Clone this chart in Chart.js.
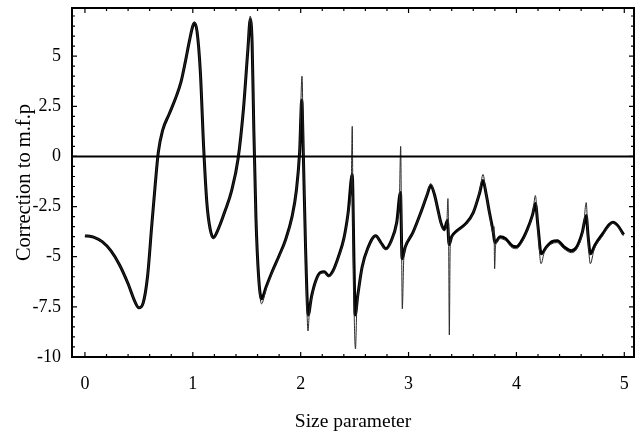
<!DOCTYPE html>
<html>
<head>
<meta charset="utf-8">
<script src="https://cdn.jsdelivr.net/npm/chart.js@4"></script>
<style>
  html, body { margin: 0; padding: 0; background: #fff; }
  #wrap { width: 642px; height: 435px; }
</style>
</head>
<body>
<div id="wrap"><canvas id="chart" width="642" height="435"></canvas></div>
<script>
// Smooth curve (heavy line): size parameter vs. correction
const smoothSize = [
  0.00, 0.08, 0.16, 0.24, 0.32, 0.40, 0.46, 0.50, 0.54, 0.58,
  0.62, 0.65, 0.68, 0.72, 0.78, 0.84, 0.89, 0.93, 0.97, 1.00,
  1.015, 1.04, 1.07, 1.10, 1.13, 1.16, 1.19, 1.23, 1.30, 1.36,
  1.42, 1.47, 1.51, 1.533, 1.55, 1.565, 1.585, 1.61, 1.637, 1.68,
  1.735, 1.80, 1.86, 1.92, 1.96, 1.99, 2.01, 2.025, 2.045, 2.07,
  2.10, 2.14, 2.18, 2.22, 2.26, 2.30, 2.35, 2.40, 2.44, 2.478,
  2.495, 2.505, 2.53, 2.57, 2.62, 2.695, 2.75, 2.79, 2.84, 2.89,
  2.925, 2.94, 2.97, 3.04, 3.11, 3.17, 3.206, 3.24, 3.27, 3.30,
  3.33, 3.36, 3.376, 3.40, 3.45, 3.53, 3.60, 3.66, 3.69, 3.72,
  3.75, 3.786, 3.80, 3.85, 3.90, 3.96, 4.00, 4.05, 4.10, 4.15,
  4.176, 4.20, 4.23, 4.28, 4.33, 4.38, 4.44, 4.51, 4.56, 4.61,
  4.647, 4.665, 4.685, 4.73, 4.80, 4.86, 4.895, 4.94, 4.994
];
const smoothCorr = [
  -3.95, -4.02, -4.25, -4.7, -5.4, -6.35, -7.2, -7.55, -7.3, -6.0,
  -3.4, -1.5, 0.2, 1.3, 2.1, 2.9, 3.7, 4.7, 5.8, 6.5,
  6.65, 6.2, 4.2, 0.5, -2.3, -3.6, -4.05, -3.7, -2.7, -1.7,
  -0.1, 2.4, 5.3, 6.85, 5.6, 1.5, -3.0, -6.0, -7.1, -6.5,
  -5.75, -4.95, -4.15, -3.0, -1.7, 0.2, 2.8, 0.0, -4.5, -7.9,
  -7.0, -6.2, -5.8, -5.75, -5.95, -5.7, -5.0, -4.1, -2.8, -0.9,
  -5.5, -7.9, -6.9, -5.5, -4.6, -3.95, -4.35, -4.6, -4.2, -3.3,
  -1.8, -5.1, -4.5, -3.8, -2.85, -1.95, -1.45, -1.9, -2.6, -3.3,
  -3.65, -3.2, -4.4, -4.0, -3.7, -3.35, -2.8, -1.8, -1.2, -1.9,
  -2.8, -3.8, -4.3, -4.0, -4.1, -4.45, -4.5, -4.2, -3.65, -2.9,
  -2.35, -3.5, -4.85, -4.5, -4.25, -4.2, -4.5, -4.7, -4.5, -3.8,
  -2.95, -4.0, -4.85, -4.4, -3.85, -3.4, -3.28, -3.45, -3.9
];

// Fine curve (thin line) with its sharp resonance spikes
const fineSize = [
  0.00, 0.08, 0.16, 0.24, 0.32, 0.40, 0.46, 0.50, 0.54, 0.58,
  0.62, 0.65, 0.68, 0.72, 0.78, 0.84, 0.89, 0.93, 0.97, 1.00,
  1.015, 1.04, 1.07, 1.10, 1.13, 1.16, 1.19, 1.23, 1.30, 1.36,
  1.42, 1.47, 1.51, 1.533, 1.55, 1.565, 1.585, 1.61, 1.637, 1.68,
  1.735, 1.80, 1.86, 1.92, 1.96, 1.99, 2.012, 2.025, 2.045, 2.068,
  2.08, 2.10, 2.14, 2.18, 2.22, 2.26, 2.30, 2.35, 2.40, 2.44,
  2.47, 2.478, 2.486, 2.508, 2.52, 2.53, 2.57, 2.62, 2.695, 2.75,
  2.79, 2.84, 2.89, 2.915, 2.927, 2.935, 2.942, 2.955, 2.97, 3.04,
  3.11, 3.17, 3.206, 3.24, 3.27, 3.30, 3.33, 3.355, 3.365, 3.372,
  3.378, 3.386, 3.40, 3.45, 3.53, 3.60, 3.66, 3.69, 3.72, 3.75,
  3.786, 3.792, 3.798, 3.806, 3.85, 3.90, 3.96, 4.00, 4.05, 4.10,
  4.15, 4.176, 4.20, 4.228, 4.26, 4.33, 4.38, 4.44, 4.51, 4.56,
  4.62, 4.647, 4.665, 4.685, 4.72, 4.80, 4.86, 4.895, 4.94, 4.994
];
const fineCorr = [
  -3.95, -4.02, -4.25, -4.7, -5.4, -6.35, -7.2, -7.55, -7.3, -6.0,
  -3.4, -1.5, 0.2, 1.3, 2.1, 2.9, 3.7, 4.7, 5.8, 6.55,
  6.7, 6.2, 4.2, 0.5, -2.3, -3.65, -4.1, -3.7, -2.7, -1.7,
  -0.1, 2.4, 5.4, 7.0, 5.6, 1.5, -3.0, -6.1, -7.35, -6.6,
  -5.8, -5.0, -4.2, -3.05, -1.7, 0.3, 4.0, 0.5, -4.6, -8.7,
  -7.8, -7.1, -6.25, -5.85, -5.8, -6.0, -5.75, -5.05, -4.15, -2.85,
  -1.0, 1.5, -4.0, -9.6, -7.6, -7.0, -5.55, -4.65, -3.95, -4.4,
  -4.65, -4.25, -3.3, -2.2, 0.5, -4.0, -7.6, -5.2, -4.55, -3.85,
  -2.85, -1.9, -1.35, -1.9, -2.65, -3.35, -3.7, -3.3, -2.1, -4.5,
  -8.9, -4.5, -4.05, -3.75, -3.4, -2.8, -1.7, -0.9, -1.9, -2.85,
  -3.85, -3.5, -5.6, -4.45, -4.1, -4.2, -4.55, -4.6, -4.3, -3.7,
  -2.9, -1.95, -3.7, -5.35, -4.75, -4.35, -4.3, -4.6, -4.8, -4.6,
  -3.6, -2.3, -4.2, -5.35, -4.65, -3.95, -3.45, -3.32, -3.5, -3.95
];

const xTickValues = [0, 1, 2, 3, 4, 5];
const yTickValues = [-10, -7.5, -5, -2.5, 0, 2.5, 5];

const toPoints = (xs, ys) => xs.map((v, i) => ({ x: v, y: ys[i] }));

// Closed frame, zero line and inward tick marks on all four sides
const framePlugin = {
  id: 'frame',
  afterDatasetsDraw(chart) {
    const { ctx, chartArea: a, scales: { x, y } } = chart;
    ctx.save();
    ctx.strokeStyle = '#000';
    ctx.lineCap = 'butt';

    ctx.lineWidth = 2;
    const y0 = Math.round(y.getPixelForValue(0)) + 0.5;
    ctx.beginPath();
    ctx.moveTo(a.left, y0);
    ctx.lineTo(a.right, y0);
    ctx.stroke();

    ctx.lineWidth = 1.2;
    for (let i = 0; i <= 25; i++) {
      const v = i * 0.2;
      const major = i % 5 === 0;
      const len = major ? 5 : 3;
      const px = x.getPixelForValue(v);
      ctx.beginPath();
      ctx.moveTo(px, a.bottom); ctx.lineTo(px, a.bottom - len);
      ctx.moveTo(px, a.top); ctx.lineTo(px, a.top + len);
      ctx.stroke();
    }
    for (let i = 0; i <= 34; i++) {
      const v = -10 + i * 0.5;
      const major = i % 5 === 0;
      const len = major ? 5 : 3;
      const py = y.getPixelForValue(v);
      ctx.beginPath();
      ctx.moveTo(a.left, py); ctx.lineTo(a.left + len, py);
      ctx.moveTo(a.right, py); ctx.lineTo(a.right - len, py);
      ctx.stroke();
    }

    ctx.lineWidth = 2;
    ctx.strokeRect(a.left, a.top, a.right - a.left, a.bottom - a.top);
    ctx.restore();
  }
};

const serif = 'Liberation Serif';

new Chart(document.getElementById('chart'), {
  type: 'line',
  data: {
    datasets: [
      {
        label: 'fine',
        data: toPoints(fineSize, fineCorr),
        borderColor: '#2a2a2a',
        borderWidth: 1,
        pointRadius: 0,
        cubicInterpolationMode: 'monotone',
        fill: false
      },
      {
        label: 'smooth',
        data: toPoints(smoothSize, smoothCorr),
        borderColor: '#000',
        borderWidth: 3,
        pointRadius: 0,
        cubicInterpolationMode: 'monotone',
        fill: false
      }
    ]
  },
  options: {
    responsive: false,
    animation: false,
    devicePixelRatio: 1,
    layout: { padding: { top: 8, right: 8, left: 0, bottom: 0 } },
    plugins: { legend: { display: false }, tooltip: { enabled: false } },
    scales: {
      x: {
        type: 'linear',
        min: -0.12,
        max: 5.09,
        afterBuildTicks: s => { s.ticks = xTickValues.map(v => ({ value: v })); },
        afterFit: s => { s.height = 78; s.paddingLeft = 0; s.paddingRight = 0; },
        grid: { display: false, drawTicks: false },
        border: { display: false },
        ticks: {
          color: '#000',
          font: { family: serif, size: 18 },
          padding: 16,
          maxRotation: 0,
          autoSkip: false
        },
        title: {
          display: true,
          text: 'Size parameter',
          color: '#000',
          font: { family: serif, size: 19.5 },
          padding: { top: 0, bottom: 1 }
        }
      },
      y: {
        type: 'linear',
        min: -10,
        max: 7.4,
        afterBuildTicks: s => { s.ticks = yTickValues.map(v => ({ value: v })); },
        afterFit: s => { s.width = 72; s.paddingTop = 0; s.paddingBottom = 0; },
        grid: { display: false, drawTicks: false },
        border: { display: false },
        ticks: {
          color: '#000',
          font: { family: serif, size: 18 },
          padding: 11,
          callback: v => String(v)
        },
        title: {
          display: true,
          text: 'Correction to m.f.p',
          color: '#000',
          font: { family: serif, size: 20.5 },
          padding: { top: 12, bottom: 0 }
        }
      }
    }
  },
  plugins: [framePlugin]
});
</script>
</body>
</html>
